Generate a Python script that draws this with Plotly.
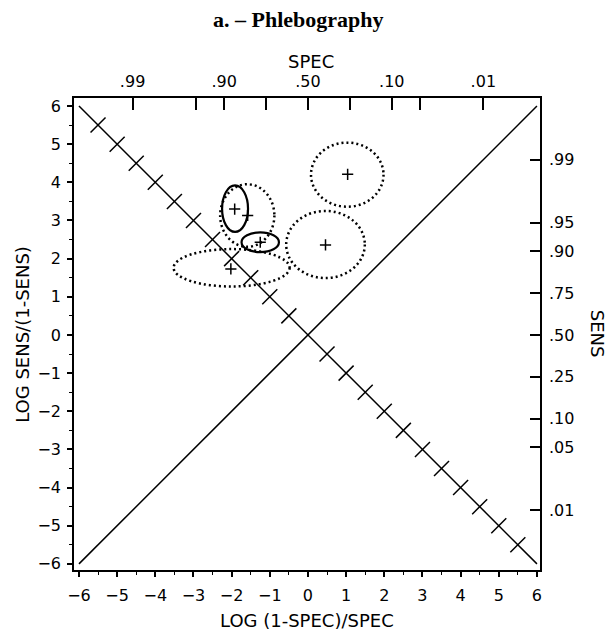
import numpy as np
import plotly.graph_objects as go

# ---- data ----
spec_ticks = [0.99, 0.95, 0.90, 0.75, 0.50, 0.25, 0.10, 0.05, 0.01]
spec_labels = [".99", "", ".90", "", ".50", "", ".10", "", ".01"]
sens_ticks = [0.99, 0.95, 0.90, 0.75, 0.50, 0.25, 0.10, 0.05, 0.01]
sens_labels = [".99", ".95", ".90", ".75", ".50", ".25", ".10", ".05", ".01"]

study_x = [-1.92, -1.58, -1.25, -2.02, 0.46, 1.04]
study_y = [3.30, 3.13, 2.43, 1.73, 2.36, 4.21]
ell_cx = [-1.91, -1.59, -1.25, -2.00, 0.46, 1.03]
ell_cy = [3.31, 3.13, 2.43, 1.76, 2.37, 4.20]
ell_rx = [0.34, 0.71, 0.49, 1.52, 1.03, 0.95]
ell_ry = [0.61, 0.82, 0.26, 0.49, 0.88, 0.84]
ell_solid = [True, False, True, False, False, False]

diag_x = [-6, 6]
diag_y = [-6, 6]
anti_x = [-6, 6]
anti_y = [6, -6]
anti_marks = [-5.5, -5, -4.5, -4, -3.5, -3, -2.5, -2, -1.5, -1, -0.5,
              0.5, 1, 1.5, 2, 2.5, 3, 3.5, 4, 4.5, 5, 5.5]

XR = [-6.13, 6.08]
YR = [-6.16, 6.21]
FONT = "DejaVu Sans, Liberation Sans, sans-serif"

spec_pos = [float(np.log((1 - s) / s)) for s in spec_ticks]
sens_pos = [float(np.log(s / (1 - s))) for s in sens_ticks]

fig = go.Figure()
fig.add_trace(go.Scatter(x=diag_x, y=diag_y, mode="lines",
                         line=dict(color="black", width=1.5), showlegend=False))
fig.add_trace(go.Scatter(x=anti_x, y=anti_y, mode="lines",
                         line=dict(color="black", width=1.5), showlegend=False))
fig.add_trace(go.Scatter(x=anti_marks, y=[-v for v in anti_marks], mode="markers",
                         marker=dict(symbol="line-ne", size=15,
                                     line=dict(color="black", width=1.5)),
                         showlegend=False))
fig.add_trace(go.Scatter(x=study_x, y=study_y, mode="markers",
                         marker=dict(symbol="cross-thin", size=8,
                                     line=dict(color="black", width=1.5)),
                         showlegend=False))
# invisible trace for secondary axes
fig.add_trace(go.Scatter(x=[0], y=[0], xaxis="x2", yaxis="y2", mode="markers",
                         marker=dict(opacity=0), showlegend=False, hoverinfo="skip"))

for cx, cy, rx, ry, solid in zip(ell_cx, ell_cy, ell_rx, ell_ry, ell_solid):
    fig.add_shape(type="circle", xref="x", yref="y",
                  x0=cx - rx, x1=cx + rx, y0=cy - ry, y1=cy + ry,
                  line=dict(color="black", width=2.2 if solid else 2.5,
                            dash="solid" if solid else "2px,3px"))

tick_font = dict(family=FONT, size=16, color="black")
axis_common = dict(showgrid=False, zeroline=False, showline=True,
                   linecolor="black", linewidth=1.5, tickfont=tick_font)

fig.update_layout(
    width=600, height=625,
    margin=dict(l=66, r=68, t=90, b=63),
    plot_bgcolor="white", paper_bgcolor="white",
    xaxis=dict(range=XR, tickmode="linear", tick0=0, dtick=1,
               ticks="outside", ticklen=5, tickwidth=1.5, tickcolor="black",
               ticklabelstandoff=5,
               minor=dict(tickmode="linear", tick0=0.5, dtick=1, ticks="outside",
                          ticklen=3, tickwidth=1.2, tickcolor="black"),
               **axis_common),
    yaxis=dict(range=YR, tickmode="linear", tick0=0, dtick=1,
               ticks="outside", ticklen=5, tickwidth=1.5, tickcolor="black",
               ticklabelstandoff=3,
               minor=dict(tickmode="linear", tick0=0.5, dtick=1, ticks="outside",
                          ticklen=3, tickwidth=1.2, tickcolor="black"),
               **axis_common),
    xaxis2=dict(range=XR, overlaying="x", side="top", tickmode="array",
                tickvals=spec_pos, ticktext=spec_labels,
                ticks="inside", ticklen=12, tickwidth=1.5, tickcolor="black",
                ticklabelstandoff=3,
                **axis_common),
    yaxis2=dict(range=YR, overlaying="y", side="right", tickmode="array",
                tickvals=sens_pos, ticktext=sens_labels,
                ticks="inside", ticklen=10, tickwidth=1.5, tickcolor="black",
                ticklabelstandoff=4,
                **axis_common),
)

anno_font = dict(family=FONT, size=18, color="black")
fig.add_annotation(text="<b>a. – Phlebography</b>", xref="paper", yref="paper",
                   x=0.481, y=1.166, xanchor="center", yanchor="middle", showarrow=False,
                   font=dict(family="Liberation Serif, Times New Roman, serif",
                             size=22, color="black"))
fig.add_annotation(text="SPEC", xref="paper", yref="paper", x=0.509, y=1.078,
                   xanchor="center", yanchor="middle", showarrow=False, font=anno_font)
fig.add_annotation(text="LOG (1-SPEC)/SPEC", xref="paper", yref="paper", x=0.5, y=-0.106,
                   xanchor="center", yanchor="middle", showarrow=False, font=anno_font)
fig.add_annotation(text="LOG SENS/(1-SENS)", xref="paper", yref="paper", x=-0.112, y=0.5,
                   xanchor="center", yanchor="middle", showarrow=False, textangle=-90,
                   font=anno_font)
fig.add_annotation(text="SENS", xref="paper", yref="paper", x=1.125, y=0.5,
                   xanchor="center", yanchor="middle", showarrow=False, textangle=90,
                   font=anno_font)

fig.write_html("out.html")
